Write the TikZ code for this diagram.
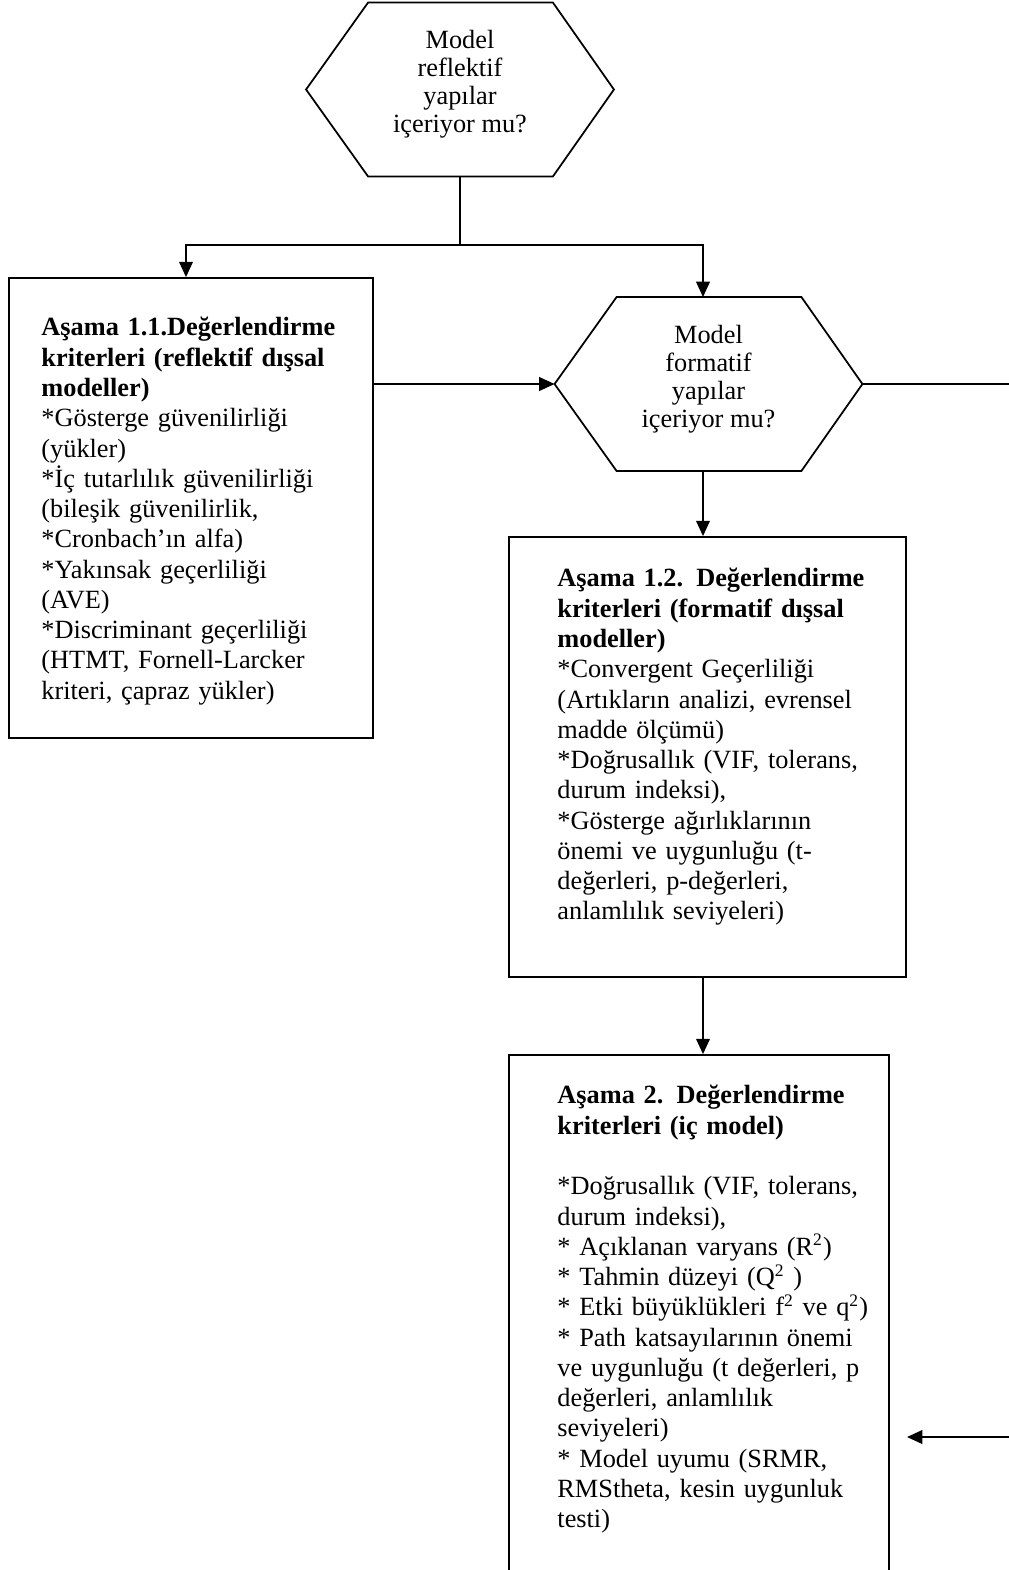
\documentclass[tikz,border=0pt]{standalone}
\usepackage{fontspec}
\setmainfont{Liberation Serif}
\usetikzlibrary{arrows.meta}
\newlength\pxu
\setlength\pxu{0.456pt}
% outline of a flat-topped hexagon drawn round a named node
\newcommand\hexframe[1]{%
  \draw[line width=0.8pt] (#1.west) -- ([xshift=62\pxu]#1.north west)
    -- ([xshift=-61\pxu]#1.north east) -- (#1.east)
    -- ([xshift=-61\pxu]#1.south east) -- ([xshift=62\pxu]#1.south west) -- cycle;}
\begin{document}
\begin{tikzpicture}[x=0.456pt,y=-0.456pt,
  flow/.style={line width=0.9pt},
  arr/.style={flow,-{Triangle[length=7pt,width=6.2pt]}},
  hexnode/.style={inner sep=0pt,minimum width=307\pxu,minimum height=173\pxu},
  hextext/.style={align=center,inner sep=0pt,font=\fontsize{12pt}{12.8pt}\selectfont},
  frame/.style={draw,line width=0.8pt,inner sep=0pt},
  boxtext/.style={anchor=north west,align=left,inner sep=0pt,
    text width=340\pxu,font=\fontsize{12pt}{13.8pt}\selectfont}]
\clip (0,0) rectangle (1009,1570);
\fill[white] (0,0) rectangle (1009,1570);

% decision hexagons
\node[hexnode] (h1) at (460,89.5) {};
\hexframe{h1}
\node[hextext] (h1t) at ([yshift=2.4pt]h1.center) {Model\\reflektif\\yapılar\\içeriyor mu?};

\node[hexnode] (h2) at (708.5,384) {};
\hexframe{h2}
\node[hextext] (h2t) at ([yshift=2.2pt]h2.center) {Model\\formatif\\yapılar\\içeriyor mu?};

% criteria boxes
\node[frame,minimum width=364\pxu,minimum height=460\pxu] (b1) at (191,508) {};
\node[boxtext] (b1t) at (41,317) {%
\makebox[302\pxu][s]{\bfseries Aşama 1.1.Değerlendirme}\\
\makebox[302\pxu][s]{\bfseries kriterleri (reflektif dışsal}\\
\textbf{modeller)}\\
{*}Gösterge güvenilirliği\\
(yükler)\\
{*}İç tutarlılık güvenilirliği\\
(bileşik güvenilirlik,\\
{*}Cronbach’ın alfa)\\
{*}Yakınsak geçerliliği\\
(AVE)\\
{*}Discriminant geçerliliği\\
(HTMT, Fornell-Larcker\\
kriteri, çapraz yükler)};

\node[frame,minimum width=397\pxu,minimum height=440\pxu] (b2) at (707.5,757) {};
\node[boxtext] (b2t) at (557,568) {%
\makebox[298\pxu][s]{\bfseries Aşama 1.2. Değerlendirme}\\
\makebox[298\pxu][s]{\bfseries kriterleri (formatif dışsal}\\
\textbf{modeller)}\\
{*}Convergent Geçerliliği\\
(Artıkların analizi, evrensel\\
madde ölçümü)\\
{*}Doğrusallık (VIF, tolerans,\\
durum indeksi),\\
{*}Gösterge ağırlıklarının\\
önemi ve uygunluğu (t-\\
değerleri, p-değerleri,\\
anlamlılık seviyeleri)};

\node[frame,minimum width=380\pxu,minimum height=565\pxu] (b3) at (699,1337.5) {};
\node[boxtext] (b3t) at (557,1085) {%
\makebox[298\pxu][s]{\bfseries Aşama 2. Değerlendirme}\\
\textbf{kriterleri (iç model)}\\[13.8pt]
{*}Doğrusallık (VIF, tolerans,\\
durum indeksi),\\
{*} Açıklanan varyans (R\textsuperscript{2})\\
{*} Tahmin düzeyi (Q\textsuperscript{2} )\\
{*} Etki büyüklükleri f\textsuperscript{2} ve q\textsuperscript{2})\\
{*} Path katsayılarının önemi\\
ve uygunluğu (t değerleri, p\\
değerleri, anlamlılık\\
seviyeleri)\\
{*} Model uyumu (SRMR,\\
RMStheta, kesin uygunluk\\
testi)};

% junction points of the connectors
\coordinate (jl) at (186,245);
\coordinate (jr) at (703,245);
\coordinate (rr) at (1040,245);
\coordinate (tip) at (907,1437);

% connectors
\draw[arr] (h1.south) -- (h1.south |- jl) -- (jl) -- (jl |- b1.north);
\draw[arr] (h1.south |- jl) -- (jr) -- (jr |- h2.north);
\draw[arr] (b1.east |- h2.west) -- (h2.west);
\draw[arr] (jr |- h2.south) -- (jr |- b2.north);
\draw[arr] (jr |- b2.south) -- (jr |- b3.north);
\draw[arr] (h2.east) -- (h2.east -| rr) |- (tip);
\end{tikzpicture}
\end{document}
